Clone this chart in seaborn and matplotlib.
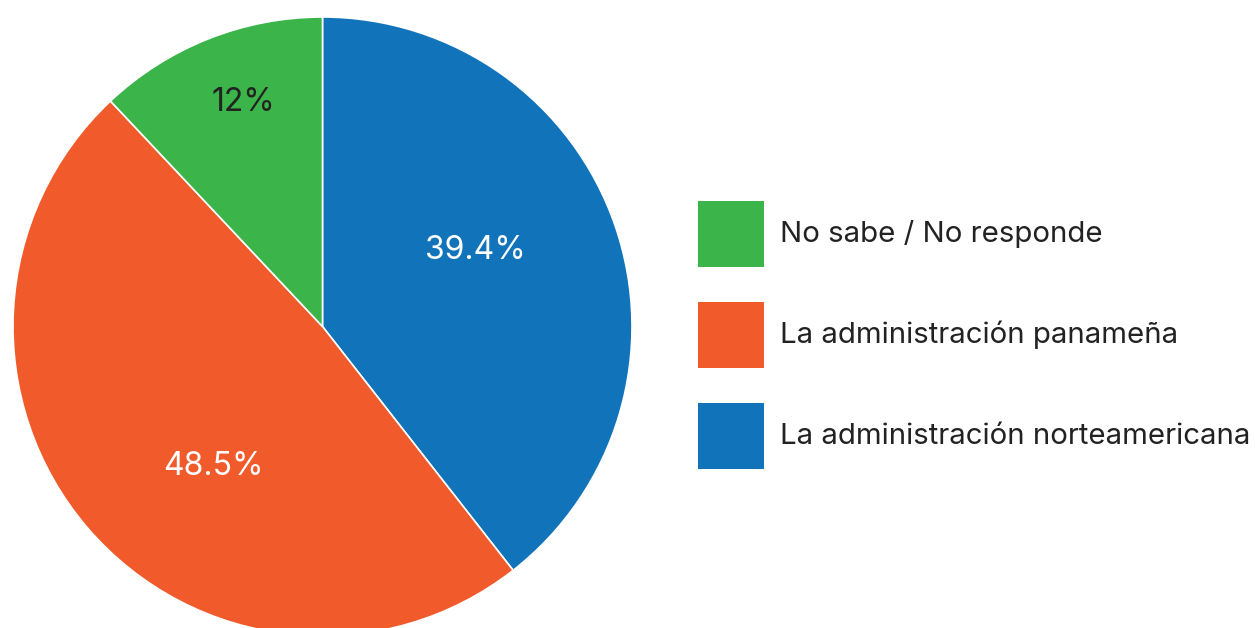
import seaborn as sns
import matplotlib.pyplot as plt
from matplotlib.patches import Rectangle

# Data (wedge order: clockwise from 12 o'clock)
categories = ['La administración norteamericana', 'La administración panameña', 'No sabe / No responde']
values = [39.4, 48.5, 12.0]
value_labels = ['39.4%', '48.5%', '12%']
colors = ['#1174BB', '#F15A2B', '#3BB54A']
label_colors = ['white', 'white', '#222222']
# label placement relative to pie centre (radius = 1)
label_pos = [(0.494, 0.257), (-0.354, -0.440), (-0.257, 0.734)]

sns.set_theme(style='white')
plt.rcParams['font.family'] = ['Inter', 'DejaVu Sans']

fig = plt.figure(figsize=(12.55, 6.28), dpi=100)
W, H = 1255, 628
ax = fig.add_axes([13 / W, (H - 636) / H, 619 / W, 619 / H])

wedges, _ = ax.pie(values, colors=colors, startangle=90, counterclock=False,
                   radius=1, wedgeprops=dict(edgecolor='white', linewidth=1.2))
ax.set_xlim(-1, 1)
ax.set_ylim(-1, 1)
ax.set_aspect('auto')
ax.axis('off')

for txt, (x, y), c in zip(value_labels, label_pos, label_colors):
    ax.text(x, y, txt, ha='center', va='center_baseline', fontsize=23, color=c)

# Legend drawn by hand (order: green, orange, blue), in pixel units
box_x, box_w, box_h = 698, 66, 66
row_top0, row_pitch = 201, 101
for k, i in enumerate([2, 1, 0]):
    top = row_top0 + k * row_pitch
    fig.add_artist(Rectangle((box_x / W, 1 - (top + box_h) / H), box_w / W, box_h / H,
                             transform=fig.transFigure, facecolor=colors[i],
                             edgecolor='none'))
    fig.text(780 / W, 1 - (top + 41) / H, categories[i], ha='left', va='baseline',
             fontsize=21.2, color='#222222')

fig.savefig('out.png', dpi=100)
